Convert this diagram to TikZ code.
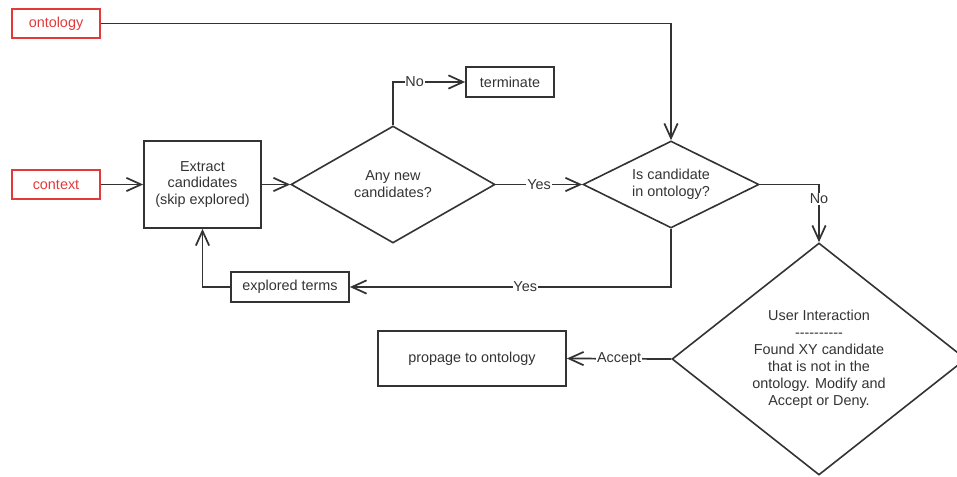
\documentclass[tikz,border=0pt]{standalone}
\usepackage{fontspec}
\setmainfont{Liberation Sans}
\usetikzlibrary{shapes.geometric,arrows.meta}
\definecolor{ink}{HTML}{333333}
\definecolor{txt}{HTML}{333333}
\definecolor{alert}{HTML}{E23A3A}

\begin{document}
\begin{tikzpicture}[x=0.75pt,y=-0.75pt,
  every node/.style={font=\fontsize{10.8pt}{12.7pt}\selectfont, text=txt, align=center},
  box/.style={draw=ink, line width=1.3pt, inner sep=0pt},
  source/.style={draw=alert, line width=1.3pt, text=alert, inner sep=0pt,
                 minimum width=66pt, minimum height=21.75pt},
  decision/.style={draw=ink, line width=1.2pt, shape=diamond, inner sep=0pt},
  flow/.style={draw=ink, line width=1.3pt, -{Straight Barb[length=11pt,width=10pt]}},
  lbl/.style={fill=white, inner sep=0.6pt}
]
\useasboundingbox (0,0) rectangle (957,477);
\clip (0,0) rectangle (957,477);

% inputs
\node[source] (onto) at (56,23.5) {ontology};
\node[source] (ctx)  at (56,184.5) {context};

% process boxes
\node[box, minimum width=87.75pt, minimum height=65.25pt] (extract) at (202.5,184.5)
  {Extract\\candidates\\(skip explored)};
\node[box, minimum width=66pt, minimum height=22.5pt] (term) at (510,82) {terminate};
\node[box, minimum width=88.5pt, minimum height=22.5pt] (explored) at (290,287) {explored terms};
\node[box, minimum width=141pt, minimum height=41.25pt] (prop) at (472,358.5) {propage to ontology};

% decisions
\node[decision, aspect=1.74, minimum width=153pt, minimum height=87.75pt] (anynew) at (393,184.5)
  {Any new\\candidates?};
\node[decision, aspect=2.02, minimum width=132pt, minimum height=65.25pt] (incand) at (671,184.5)
  {Is candidate\\in ontology?};
\node[decision, aspect=1.27, minimum width=220.5pt, minimum height=174pt] (user) at (819,359)
  {User Interaction\\{-}{-}{-}{-}{-}{-}{-}{-}{-}{-}\\Found XY candidate\\that is not in the\\ontology. Modify and\\Accept or Deny.};

% connectors
\draw[flow] (onto.east) -| (incand.north);
\draw[flow] (ctx.east) -- (extract.west);
\draw[flow] (extract.east) -- (anynew.west);
\draw[flow] (anynew.north) |- node[lbl, pos=0.65] {No} (term.west);
\draw[flow] (anynew.east) -- node[lbl] {Yes} (incand.west);
\draw[flow] (incand.south) |- node[lbl, pos=0.727] {Yes} (explored.east);
\draw[flow] (explored.west) -| (extract.south);
\draw[flow] (incand.east) -| node[lbl, pos=0.624] {No} (user.north);
\draw[flow] (user.west) -- node[lbl] {Accept} (prop.east);
\end{tikzpicture}
\end{document}
